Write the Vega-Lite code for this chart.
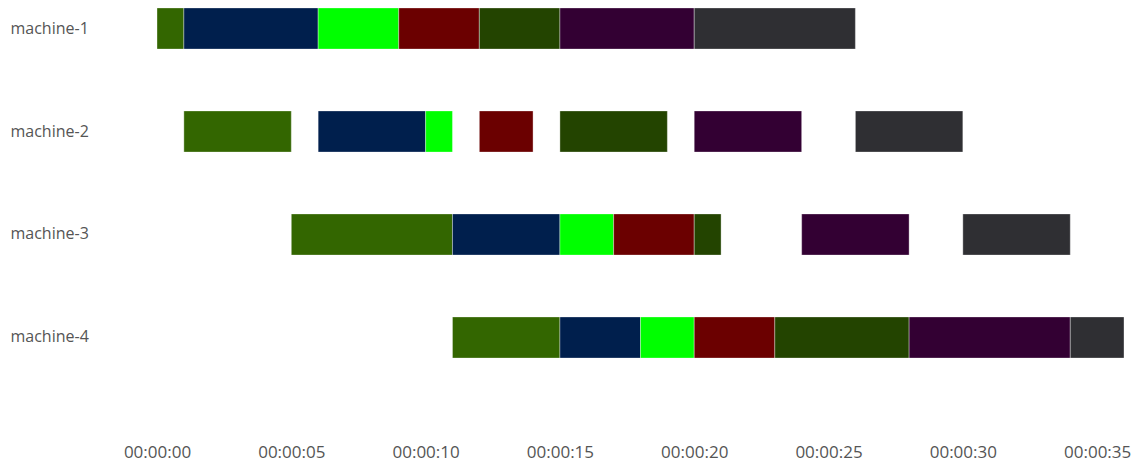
{
  "$schema": "https://vega.github.io/schema/vega-lite/v6.json",
  "autosize": {"type": "none"},
  "width": 967,
  "height": 366,
  "padding": {"left": 157, "top": 0, "right": 14, "bottom": 99},
  "background": "white",
  "config": {
    "view": {"stroke": null},
    "font": "Open Sans"
  },
  "data": {
    "values": [
      {"machine": "machine-1", "job": "job-1", "start": 0, "end": 1},
      {"machine": "machine-1", "job": "job-2", "start": 1, "end": 6},
      {"machine": "machine-1", "job": "job-3", "start": 6, "end": 9},
      {"machine": "machine-1", "job": "job-4", "start": 9, "end": 12},
      {"machine": "machine-1", "job": "job-5", "start": 12, "end": 15},
      {"machine": "machine-1", "job": "job-6", "start": 15, "end": 20},
      {"machine": "machine-1", "job": "job-7", "start": 20, "end": 26},
      {"machine": "machine-2", "job": "job-1", "start": 1, "end": 5},
      {"machine": "machine-2", "job": "job-2", "start": 6, "end": 10},
      {"machine": "machine-2", "job": "job-3", "start": 10, "end": 11},
      {"machine": "machine-2", "job": "job-4", "start": 12, "end": 14},
      {"machine": "machine-2", "job": "job-5", "start": 15, "end": 19},
      {"machine": "machine-2", "job": "job-6", "start": 20, "end": 24},
      {"machine": "machine-2", "job": "job-7", "start": 26, "end": 30},
      {"machine": "machine-3", "job": "job-1", "start": 5, "end": 11},
      {"machine": "machine-3", "job": "job-2", "start": 11, "end": 15},
      {"machine": "machine-3", "job": "job-3", "start": 15, "end": 17},
      {"machine": "machine-3", "job": "job-4", "start": 17, "end": 20},
      {"machine": "machine-3", "job": "job-5", "start": 20, "end": 21},
      {"machine": "machine-3", "job": "job-6", "start": 24, "end": 28},
      {"machine": "machine-3", "job": "job-7", "start": 30, "end": 34},
      {"machine": "machine-4", "job": "job-1", "start": 11, "end": 15},
      {"machine": "machine-4", "job": "job-2", "start": 15, "end": 18},
      {"machine": "machine-4", "job": "job-3", "start": 18, "end": 20},
      {"machine": "machine-4", "job": "job-4", "start": 20, "end": 23},
      {"machine": "machine-4", "job": "job-5", "start": 23, "end": 28},
      {"machine": "machine-4", "job": "job-6", "start": 28, "end": 34},
      {"machine": "machine-4", "job": "job-7", "start": 34, "end": 36}
    ]
  },
  "mark": {"type": "bar", "stroke": "#ffffff", "strokeOpacity": 0.35, "strokeWidth": 1},
  "encoding": {
    "y": {
      "field": "machine", "type": "nominal", "title": null,
      "scale": {"paddingInner": 0.6, "paddingOuter": 0.0767},
      "axis": {"ticks": false, "tickSize": 0, "domain": false, "labelAlign": "left", "labelPadding": 147, "labelFontSize": 16, "labelColor": "#555555", "labelFont": "Open Sans"}
    },
    "x": {
      "field": "start", "type": "quantitative", "title": null,
      "scale": {"domain": [0, 36], "nice": false, "zero": false},
      "axis": {"values": [0, 5, 10, 15, 20, 25, 30, 35], "grid": false, "ticks": false, "tickSize": 0, "domain": false, "offset": 76, "labelFontSize": 17, "labelColor": "#555555", "labelFont": "Open Sans", "labelFlush": false, "labelExpr": "'00:00:' + (datum.value < 10 ? '0' : '') + datum.value"}
    },
    "x2": {"field": "end"},
    "color": {
      "field": "job", "type": "nominal", "legend": null,
      "scale": {
        "domain": ["job-1", "job-2", "job-3", "job-4", "job-5", "job-6", "job-7"],
        "range": ["#336600", "#001f4d", "#00ff00", "#6b0000", "#234400", "#330033", "#2f2f33"]
      }
    }
  }
}
